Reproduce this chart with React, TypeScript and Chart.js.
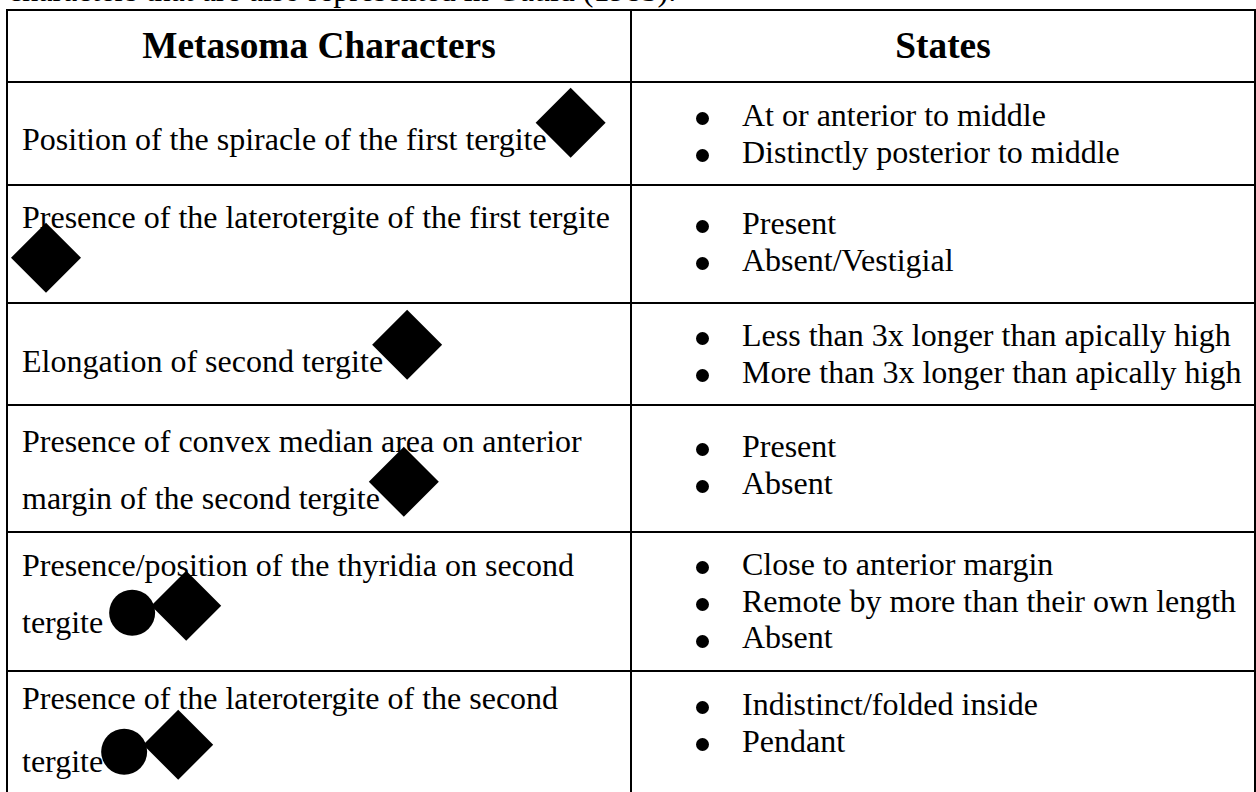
import React, { useEffect, useRef } from "react";
import { Chart, registerables } from "chart.js";

Chart.register(...registerables);

// ---- content ----
const leadIn = "characters that are also represented in Gauld (1985).";
const headers = ["Metasoma Characters", "States"];
const characters = [
  "Position of the spiracle of the first tergite",
  "Presence of the laterotergite of the first tergite ",
  "Elongation of second tergite",
  "Presence of convex median area on anterior margin of the second tergite",
  "Presence/position of the thyridia on second tergite ",
  "Presence of the laterotergite of the second tergite",
];
const states = [
  ["At or anterior to middle", "Distinctly posterior to middle"],
  ["Present", "Absent/Vestigial"],
  ["Less than 3x longer than apically high", "More than 3x longer than apically high"],
  ["Present", "Absent"],
  ["Close to anterior margin", "Remote by more than their own length", "Absent"],
  ["Indistinct/folded inside", "Pendant"],
];
const markers = [
  ["diamond"],
  ["diamond"],
  ["diamond"],
  ["diamond"],
  ["circle", "diamond"],
  ["circle", "diamond"],
];

// ---- layout / style ----
const W = 1256;
const H = 792;
const FONT = '"Liberation Serif", "Times New Roman", Times, serif';
const FS = 32;
const HFS = 37.33;
const rowRules = [10, 82, 185, 303, 405, 532, 671];
const colRules = [7, 631, 1255];
const leftBaselines = [150, 228, 372, 452, 576, 709];
const leftLineHeights = [57, 57, 57, 57, 57, 63];
const rightBaselines = [126, 234, 346, 457, 575, 715];
const RIGHT_LH = 36.8;

const baseOff = (lh: number, fs: number) => (lh - 1.107 * fs) / 2 + 0.891 * fs;

const MARK: Record<string, { r: number; lift: number; ml: number }> = {
  diamond: { r: 35, lift: 27, ml: -11 },
  circle: { r: 23, lift: 20, ml: -2 },
};
const FOLLOW_ML = -4;

function measure(wrap: HTMLElement) {
  const box = wrap.getBoundingClientRect();
  const pts: Record<string, { x: number; y: number }[]> = { circle: [], diamond: [] };
  wrap.querySelectorAll<HTMLElement>("[data-marker]").forEach((el) => {
    const r = el.getBoundingClientRect();
    pts[el.dataset.marker as string].push({
      x: r.left - box.left + r.width / 2,
      y: r.top - box.top + r.height / 2,
    });
  });
  return pts;
}

export default function App() {
  const wrapRef = useRef<HTMLDivElement>(null);
  const canvasRef = useRef<HTMLCanvasElement>(null);

  useEffect(() => {
    const wrap = wrapRef.current!;
    const canvas = canvasRef.current!;
    const pts = measure(wrap);
    const chart = new Chart(canvas, {
      type: "scatter",
      data: {
        datasets: [
          {
            label: "circle",
            data: pts.circle,
            pointStyle: "circle",
            pointRadius: MARK.circle.r,
            pointHoverRadius: MARK.circle.r,
            backgroundColor: "#000",
            borderColor: "#000",
            borderWidth: 0,
            clip: false as any,
          },
          {
            label: "diamond",
            data: pts.diamond,
            pointStyle: "rectRot",
            pointRadius: MARK.diamond.r,
            pointHoverRadius: MARK.diamond.r,
            backgroundColor: "#000",
            borderColor: "#000",
            borderWidth: 0,
            clip: false as any,
          },
        ],
      },
      options: {
        animation: false,
        responsive: false,
        devicePixelRatio: 1,
        events: [],
        layout: { padding: 0, autoPadding: false },
        scales: {
          x: { type: "linear", min: 0, max: W, display: false },
          y: { type: "linear", min: 0, max: H, reverse: true, display: false },
        },
        plugins: { legend: { display: false }, tooltip: { enabled: false } },
      },
    });
    let alive = true;
    const refresh = () => {
      if (!alive) return;
      const p = measure(wrap);
      chart.data.datasets[0].data = p.circle as any;
      chart.data.datasets[1].data = p.diamond as any;
      chart.update("none");
    };
    if ((document as any).fonts && (document as any).fonts.ready) {
      (document as any).fonts.ready.then(refresh);
    }
    return () => {
      alive = false;
      chart.destroy();
    };
  }, []);

  const hLines = rowRules.map((y, i) => (
    <div
      key={"h" + i}
      style={{ position: "absolute", left: colRules[0] - 1, width: colRules[2] - colRules[0] + 2, top: y - 1, height: 2, background: "#000" }}
    />
  ));
  const vLines = colRules.map((x, i) => (
    <div
      key={"v" + i}
      style={{ position: "absolute", left: x - 1, width: 2, top: rowRules[0] - 1, height: H, background: "#000" }}
    />
  ));

  const headerTop = 58.6 - baseOff(HFS * 1.15, HFS);

  return (
    <div
      ref={wrapRef}
      style={{
        position: "fixed",
        left: 0,
        top: 0,
        width: W,
        height: H,
        overflow: "hidden",
        background: "#fff",
        color: "#000",
        fontFamily: FONT,
        fontSize: FS,
      }}
    >
      <div
        style={{ position: "absolute", left: 8, top: 1 - baseOff(RIGHT_LH, FS), lineHeight: RIGHT_LH + "px", whiteSpace: "nowrap" }}
      >
        {leadIn}
      </div>

      {hLines}
      {vLines}

      {headers.map((h, i) => (
        <div
          key={"hd" + i}
          style={{
            position: "absolute",
            left: colRules[i] + 1,
            width: colRules[i + 1] - colRules[i] - 2,
            top: headerTop,
            textAlign: "center",
            fontWeight: "bold",
            fontSize: HFS,
            lineHeight: HFS * 1.15 + "px",
            whiteSpace: "nowrap",
          }}
        >
          {h}
        </div>
      ))}

      {characters.map((c, i) => (
        <div
          key={"c" + i}
          style={{
            position: "absolute",
            left: 22,
            width: 600,
            top: leftBaselines[i] - baseOff(leftLineHeights[i], FS),
            lineHeight: leftLineHeights[i] + "px",
          }}
        >
          {c}
          {markers[i].map((k, j) => {
            const m = MARK[k];
            return (
              <span
                key={j}
                data-marker={k}
                style={{
                  display: "inline-block",
                  width: 2 * m.r,
                  height: 2 * m.r,
                  marginTop: -2 * m.r,
                  marginLeft: j === 0 ? m.ml : FOLLOW_ML,
                  verticalAlign: "baseline",
                  position: "relative",
                  top: m.r - m.lift,
                }}
              />
            );
          })}
        </div>
      ))}

      {states.map((list, i) => (
        <div
          key={"s" + i}
          style={{
            position: "absolute",
            left: colRules[1] + 1,
            width: colRules[2] - colRules[1] - 2,
            top: rightBaselines[i] - baseOff(RIGHT_LH, FS),
            lineHeight: RIGHT_LH + "px",
          }}
        >
          {list.map((s, j) => (
            <div key={j} style={{ position: "relative", paddingLeft: 110, whiteSpace: "nowrap" }}>
              <span
                style={{
                  position: "absolute",
                  left: 63.5,
                  top: baseOff(RIGHT_LH, FS) - 7.5 - 6.5,
                  width: 13,
                  height: 13,
                  borderRadius: "50%",
                  background: "#000",
                }}
              />
              {s}
            </div>
          ))}
        </div>
      ))}

      <canvas
        ref={canvasRef}
        width={W}
        height={H}
        style={{ position: "absolute", left: 0, top: 0, width: W, height: H, pointerEvents: "none", zIndex: 2 }}
      />
    </div>
  );
}
